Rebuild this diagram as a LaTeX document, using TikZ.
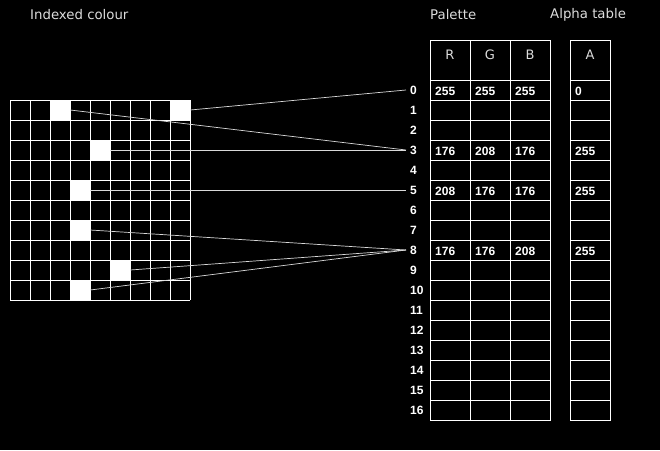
\documentclass[tikz,border=0pt]{standalone}
\usepackage{fontspec}
\setmainfont{DejaVu Sans}
\newfontfamily\numfont{Liberation Sans}
\usetikzlibrary{positioning}

\definecolor{titlegray}{RGB}{220,220,220}

\tikzset{
  title/.style={anchor=west, text=titlegray, inner sep=0pt, font=\fontsize{13.3}{15}\selectfont},
  hdr/.style={text=titlegray, inner sep=0pt, font=\fontsize{13}{15}\selectfont},
  val/.style={anchor=west, text=white, inner sep=0pt, font=\numfont\bfseries\fontsize{12}{14}\selectfont},
  idx/.style={anchor=west, text=white, inner xsep=4pt, inner ysep=0pt, font=\numfont\bfseries\fontsize{12}{14}\selectfont},
  pixel/.style={fill=white, minimum size=20pt, inner sep=0pt},
  cellline/.style={white, line width=1pt},
  link/.style={white!85!black, line width=0.7pt}
}

\begin{document}
\begin{tikzpicture}[x=1pt, y=-1pt]
\fill [black] (0,0) rectangle (660,450);
\useasboundingbox (0,0) rectangle (660,450);

\node [title] (tindexed) at (30,15) {Indexed colour};
\node [title] (tpalette) at (430,15) {Palette};
\node [title] (talpha) at (550,15) {Alpha table};

% indexed image grid
\foreach \x in {10,30,...,190} \draw [cellline] (\x,100) -- (\x,300);
\foreach \y in {100,120,...,300} \draw [cellline] (10,\y) -- (190,\y);

\node [pixel] (p1) at (60,110) {};
\node [pixel] (p2) at (180,110) {};
\node [pixel] (p3) at (100,150) {};
\node [pixel] (p4) at (80,190) {};
\node [pixel] (p5) at (80,230) {};
\node [pixel] (p6) at (120,270) {};
\node [pixel] (p7) at (80,290) {};

% palette and alpha table
\draw [cellline] (430,40) rectangle (550,420);
\draw [cellline] (570,40) rectangle (610,420);
\draw [cellline] (470,40) -- (470,420);
\draw [cellline] (510,40) -- (510,420);
\foreach \y in {80,100,...,400} {
  \draw [cellline] (430,\y) -- (550,\y);
  \draw [cellline] (570,\y) -- (610,\y);
}

\node [hdr] (hR) at (450,55) {R};
\node [hdr] (hG) at (490,55) {G};
\node [hdr] (hB) at (530,55) {B};
\node [hdr] (hA) at (590,55) {A};

% indices
\foreach \i in {0,...,16} \node [idx] (i\i) at (406,{90+20*\i}) {\i};

% values
\node [val] (r0) at (435,91) {255};
\node [val] (g0) at (475,91) {255};
\node [val] (b0) at (515,91) {255};
\node [val] (a0) at (575,91) {0};
\node [val] (r3) at (435,151) {176};
\node [val] (g3) at (475,151) {208};
\node [val] (b3) at (515,151) {176};
\node [val] (a3) at (575,151) {255};
\node [val] (r5) at (435,191) {208};
\node [val] (g5) at (475,191) {176};
\node [val] (b5) at (515,191) {176};
\node [val] (a5) at (575,191) {255};
\node [val] (r8) at (435,251) {176};
\node [val] (g8) at (475,251) {176};
\node [val] (b8) at (515,251) {208};
\node [val] (a8) at (575,251) {255};

% pixels to palette entries
\draw [link] (p2.east) -- (i0.west);
\draw [link] (p1.east) -- (i3.west);
\draw [link] (p3.east) -- (i3.west);
\draw [link] (p4.east) -- (i5.west);
\draw [link] (p5.east) -- (i8.west);
\draw [link] (p6.east) -- (i8.west);
\draw [link] (p7.east) -- (i8.west);
\end{tikzpicture}
\end{document}
